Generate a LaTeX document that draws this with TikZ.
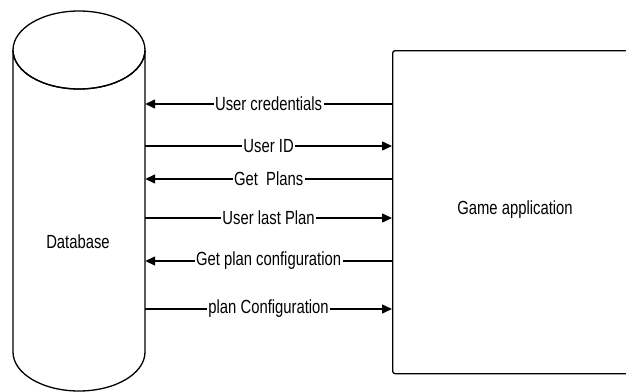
\documentclass[tikz,border=0pt]{standalone}
\usepackage{fontspec}
\setmainfont{Liberation Sans}[FakeStretch=0.78]
\usetikzlibrary{arrows.meta}
\begin{document}
\begin{tikzpicture}[x=1pt,y=-1pt,
  outline/.style={line width=1.3pt},
  msg/.style={line width=1.4pt},
  tolhs/.style={msg,{Triangle[length=10pt,width=9pt]}-},
  torhs/.style={msg,-{Triangle[length=10pt,width=9pt]}},
  msglabel/.style={fill=white,inner xsep=1.5pt,inner ysep=1pt},
  every node/.style={font=\fontsize{19}{22}\selectfont}]
\useasboundingbox (0,0) rectangle (626,391);
\clip (0,0) rectangle (626,391);

% database cylinder
\node[minimum width=132pt,minimum height=380pt,inner sep=0pt] (db) at (79,201) {};
\draw[outline,fill=white] (13,352) -- (13,50) arc[start angle=180,end angle=360,x radius=66,y radius=-39]
  -- (145,352) arc[start angle=0,end angle=-180,x radius=66,y radius=-39];
\draw[outline] (79,50) ellipse[x radius=66,y radius=39];
\node (dbtext) at (78,242) {Database};

% game application box
\node[draw,outline,rounded corners=2.5pt,minimum width=238pt,minimum height=323pt,
  inner sep=0pt,anchor=north west] (app) at (392,50) {};
\node (apptext) at (515,210) {Game application};

% message rows
\coordinate (r1) at (0,104);
\coordinate (r2) at (0,146);
\coordinate (r3) at (0,179);
\coordinate (r4) at (0,218);
\coordinate (r5) at (0,261);
\coordinate (r6) at (0,309);

\draw[tolhs] (db.east |- r1) -- node[msglabel] {User credentials} (app.west |- r1);
\draw[torhs] (db.east |- r2) -- node[msglabel] {User ID} (app.west |- r2);
\draw[tolhs] (db.east |- r3) -- node[msglabel] {Get\ \ Plans} (app.west |- r3);
\draw[torhs] (db.east |- r4) -- node[msglabel] {User last Plan} (app.west |- r4);
\draw[tolhs] (db.east |- r5) -- node[msglabel] {Get plan configuration} (app.west |- r5);
\draw[torhs] (db.east |- r6) -- node[msglabel] {plan Configuration} (app.west |- r6);
\end{tikzpicture}
\end{document}
